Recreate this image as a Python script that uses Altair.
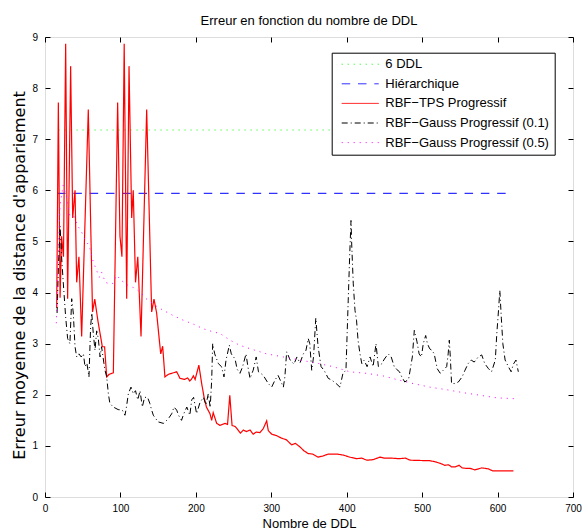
import altair as alt
import pandas as pd

FONT = "Liberation Sans"

series_names = ["6 DDL", "Hiérarchique", "RBF−TPS Progressif",
                "RBF−Gauss Progressif (0.1)", "RBF−Gauss Progressif (0.5)"]
series_colors = ["#00ff00", "#3030ff", "#ff0000", "#000000", "#ff00ff"]
series_dashes = [[1, 5], [8.5, 7.8], [1, 0], [6, 3, 1, 3], [1, 5]]

x_ticks = [0, 100, 200, 300, 400, 500, 600, 700]
y_ticks = [0, 1, 2, 3, 4, 5, 6, 7, 8, 9]

ddl6_x = [18, 622]
ddl6_y = [7.18, 7.18]

hier_x = [16, 620]
hier_y = [5.94, 5.94]

tps_x = [15.5, 17.7, 20, 22, 24.5, 27.4, 30, 34, 36.7, 39.8, 42, 45, 48.6, 57.4, 63, 66, 70, 76, 79, 81.8,
         85, 90.6, 96.3, 99.4, 102, 105, 108.3, 111.4, 114.9, 117, 120, 123, 127.3, 134.8, 141.4, 144.5,
         148, 153.4, 156, 159, 163.5, 168, 174.6, 179, 185, 189, 192, 194, 196.7, 199, 204, 207.7, 210.8,
         214, 218.7, 221, 223, 227.6, 232, 238.5, 242, 245, 248, 252, 256, 259, 263, 267, 271.8, 276, 280,
         285, 289.4, 293.9, 296, 300.5, 307, 313.8, 320, 327, 332, 338, 343.6, 349, 355, 362, 368, 375.6,
         387, 395.5, 404, 413, 420, 426.5, 435, 444, 450, 460, 469, 478, 484, 510, 517, 523.7, 530, 535,
         539, 544, 549, 553, 558, 563.5, 570, 579, 588, 593.5, 621]
tps_y = [3.7, 7.72, 3.9, 5.1, 4.7, 8.87, 3.88, 8.43, 5.46, 6.0, 4.2, 4.7, 3.14, 7.58, 3.62, 3.87, 3.46, 2.94,
         2.94, 2.35, 2.4, 2.43, 7.72, 5.1, 4.7, 8.87, 3.88, 8.43, 5.46, 6.0, 4.2, 4.7, 3.14, 7.58, 3.62,
         3.87, 3.6, 2.8, 2.95, 2.35, 2.4, 2.42, 2.45, 2.32, 2.3, 2.33, 2.27, 2.3, 2.37, 2.3, 2.58, 2.22,
         1.96, 1.76, 1.63, 1.5, 1.65, 1.44, 1.4, 1.44, 1.42, 1.99, 1.4, 1.38, 1.31, 1.25, 1.31, 1.28, 1.31,
         1.23, 1.27, 1.26, 1.34, 1.49, 1.3, 1.23, 1.2, 1.15, 1.12, 1.02, 1.05, 0.98, 0.9, 0.85, 0.84, 0.78,
         0.8, 0.84, 0.84, 0.82, 0.78, 0.75, 0.76, 0.72, 0.73, 0.78, 0.76, 0.76, 0.75, 0.76, 0.72, 0.71,
         0.69, 0.66, 0.62, 0.63, 0.59, 0.59, 0.62, 0.57, 0.56, 0.56, 0.53, 0.57, 0.55, 0.51, 0.51]

g01_x = [16, 18, 20, 22, 24, 27.4, 30, 33, 35.4, 37.5, 39.8, 42, 45, 48, 51, 53, 55.5, 58.3, 60.5, 62,
         64, 66.3, 68.5, 70.7, 73, 75, 77.5, 79.5, 81.8, 84, 86, 90.6, 97, 102.5, 106, 108, 110.5, 114,
         117, 120, 123, 126, 129, 132, 136, 139, 141.4, 143.6, 146, 150, 157, 163.5, 168, 171, 174.6, 177,
         181, 184, 188, 192, 194.5, 197, 201, 205.5, 210, 213.4, 216.5, 219, 221, 222.3, 225, 229.8, 234,
         237.3, 240, 244.4, 247, 252, 254.7, 258.5, 262, 266.5, 269, 271.8, 276, 280, 283, 286, 289.4, 296,
         300.5, 305, 309, 313, 316, 318, 320.4, 325, 330, 334, 338, 342.5, 346, 349, 351, 353.6, 356, 359,
         362, 366, 370, 375.6, 380, 386, 391, 395, 399, 402, 404, 405.7, 406.6, 408.7, 411, 413, 415,
         417.6, 420, 423, 427, 431, 435, 438.8, 442, 446, 450, 455, 459, 463, 466, 470, 473, 477, 482, 487,
         489.6, 493, 496, 499, 501.5, 504.7, 507, 510, 513, 516, 520, 524, 528, 532.5, 534.5, 536, 537.5,
         539, 543, 548, 553, 556.8, 561, 565, 569, 574.4, 579, 583, 588, 592, 597, 599, 601, 603, 605, 607,
         610, 614.3, 618, 621, 624.4, 627.5]
g01_y = [3.6, 4.6, 5.3, 4.7, 4.24, 3.52, 3.1, 3.0, 3.88, 3.6, 2.94, 2.74, 2.8, 2.74, 2.8, 2.55, 2.62, 2.35,
         3.33, 3.6, 3.2, 2.87, 3.25, 3.1, 2.74, 2.94, 2.68, 2.48, 2.35, 2.02, 1.83, 1.76, 1.71, 1.7, 1.6,
         1.76, 2.02, 2.15, 2.02, 2.08, 1.9, 2.08, 1.76, 1.95, 1.95, 1.83, 1.7, 1.6, 1.55, 1.47, 1.44, 1.53,
         1.63, 1.76, 1.7, 1.6, 1.5, 1.63, 1.76, 1.6, 1.9, 1.95, 1.63, 1.85, 1.95, 1.8, 2.02, 1.75, 2.29,
         3.0, 2.8, 2.61, 2.55, 2.35, 2.68, 2.97, 2.8, 2.7, 2.5, 2.42, 2.55, 2.8, 2.55, 2.32, 2.48, 2.74,
         2.45, 2.42, 2.38, 2.22, 2.15, 2.29, 2.38, 2.25, 2.15, 2.35, 2.84, 2.68, 2.6, 2.74, 2.62, 2.8, 2.87,
         3.1, 3.0, 2.48, 2.74, 3.5, 2.95, 2.55, 2.48, 2.32, 2.29, 2.22, 2.15, 2.42, 2.48, 3.85, 4.75, 5.41,
         4.95, 4.17, 3.65, 3.46, 3.07, 2.8, 2.61, 2.68, 2.55, 2.74, 2.55, 3.0, 2.55, 2.6, 2.7, 2.8, 2.74,
         2.55, 2.5, 2.45, 2.35, 2.25, 2.3, 2.74, 3.26, 3.05, 2.8, 2.74, 3.0, 3.16, 3.0, 2.9, 2.87, 2.8,
         2.51, 2.42, 2.48, 2.55, 2.8, 3.07, 2.7, 2.22, 2.22, 2.25, 2.35, 2.48, 2.61, 2.68, 2.64, 2.74, 2.78,
         2.61, 2.51, 2.45, 2.68, 3.2, 3.6, 4.04, 3.5, 3.0, 2.68, 2.55, 2.45, 2.6, 2.68, 2.45]

g05_x = [15, 17, 20, 24, 28, 33, 38, 44, 48, 53, 57, 60, 64, 68, 72, 75, 80, 86, 90, 95, 100, 110, 120,
         128, 134, 146, 157, 170, 183, 197, 210, 223, 232, 245, 258, 272, 294, 316, 338, 360, 382, 404,
         426, 448, 466, 488, 510, 532, 555, 577, 599, 627]
g05_y = [3.4, 4.6, 5.7, 6.1, 5.9, 5.5, 5.5, 5.29, 5.2, 5.04, 4.95, 4.84, 4.6, 4.45, 4.3, 4.4, 4.2, 4.17,
         4.18, 4.34, 4.25, 4.14, 4.08, 3.98, 3.88, 3.75, 3.65, 3.55, 3.46, 3.38, 3.29, 3.23, 3.2, 3.07,
         2.97, 2.9, 2.8, 2.74, 2.68, 2.62, 2.55, 2.45, 2.42, 2.37, 2.3, 2.22, 2.15, 2.1, 2.04, 1.99, 1.94,
         1.92]

series_data = [(ddl6_x, ddl6_y), (hier_x, hier_y), (tps_x, tps_y), (g01_x, g01_y), (g05_x, g05_y)]
series_widths = [1, 1.2, 1.2, 1, 1]

rows = []
for name, (xs, ys) in zip(series_names, series_data):
    assert len(xs) == len(ys), name
    for i, (xv, yv) in enumerate(zip(xs, ys)):
        rows.append({"x": xv, "y": yv, "s": name, "i": i})
df = pd.DataFrame(rows)

W, H = 528, 460
xscale = alt.Scale(domain=[0, 700], nice=False, zero=False)
yscale = alt.Scale(domain=[0, 9], nice=False, zero=False)

x_main_axis = alt.Axis(values=x_ticks, ticks=False, tickSize=0, domain=False, grid=False,
                       labelPadding=6, title="Nombre de DDL", titleY=30,
                       titleBaseline="alphabetic", titleFontWeight="normal", titleFont=FONT,
                       titleFontSize=13, labelFlush=False)
y_main_axis = alt.Axis(values=y_ticks, ticks=False, tickSize=0, domain=False, grid=False,
                       labelPadding=7.5, title="Erreur moyenne de la distance d'appariement",
                       titleX=-21, titleY=238, titleBaseline="alphabetic", titleFontWeight="normal",
                       titleFont="DejaVu Sans", titleFontSize=16, labelFlush=False)

legend_kw = dict(title=None, orient="none", legendX=286.7, legendY=15.7, fillColor="white",
                 strokeColor="black", padding=5, symbolType="M-0.3,0H7.1", symbolSize=100,
                 symbolStrokeWidth=1, labelFont=FONT, labelFontSize=13, labelColor="#000000",
                 labelOffset=35.6, rowPadding=5.6, labelLimit=400)

color_enc = alt.Color("s:N", scale=alt.Scale(domain=series_names, range=series_colors),
                      legend=alt.Legend(**legend_kw))
dash_enc = alt.StrokeDash("s:N", scale=alt.Scale(domain=series_names, range=series_dashes),
                          legend=alt.Legend(**legend_kw))

layers = []
for name, w in zip(series_names, series_widths):
    layers.append(
        alt.Chart(df).transform_filter(alt.datum.s == name)
        .mark_line(strokeWidth=w)
        .encode(
            x=alt.X("x:Q", scale=xscale, axis=x_main_axis),
            y=alt.Y("y:Q", scale=yscale, axis=y_main_axis),
            color=color_enc,
            strokeDash=dash_enc,
            order="i:Q",
        )
    )
series = alt.layer(*layers)

tick_kw = dict(labels=False, domain=False, grid=False, title=None, tickSize=5,
               tickColor="#000000", tickWidth=1)
ticks_in_a = alt.Chart(df).mark_point(opacity=0).encode(
    x=alt.X("x:Q", scale=xscale, axis=alt.Axis(orient="top", offset=-H, values=x_ticks, **tick_kw)),
    y=alt.Y("y:Q", scale=yscale, axis=alt.Axis(orient="right", offset=-W, values=y_ticks, **tick_kw)),
)
ticks_in_b = alt.Chart(df).mark_point(opacity=0).encode(
    x=alt.X("x:Q", scale=xscale, axis=alt.Axis(orient="bottom", offset=-H, values=x_ticks, **tick_kw)),
    y=alt.Y("y:Q", scale=yscale, axis=alt.Axis(orient="left", offset=-W, values=y_ticks, **tick_kw)),
)

chart = (
    alt.layer(series, ticks_in_a, ticks_in_b)
    .resolve_axis(x="independent", y="independent")
    .properties(
        width=W, height=H,
        title=alt.TitleParams("Erreur en fonction du nombre de DDL", font=FONT, fontSize=13,
                              fontWeight="normal", color="#000000", baseline="alphabetic",
                              offset=-6, anchor="middle"),
        autosize=alt.AutoSizeParams(type="none"),
        padding={"left": 45, "top": 37, "right": 11, "bottom": 34},
    )
    .configure_view(stroke="#000000", strokeWidth=1.3)
    .configure_axis(labelFont=FONT, labelFontSize=13, labelColor="#000000",
                    titleFont=FONT, titleColor="#000000", titleFontWeight="normal")
    .configure(background="white")
)

chart.save("out.html", embed_options={"renderer": "svg", "actions": False})
